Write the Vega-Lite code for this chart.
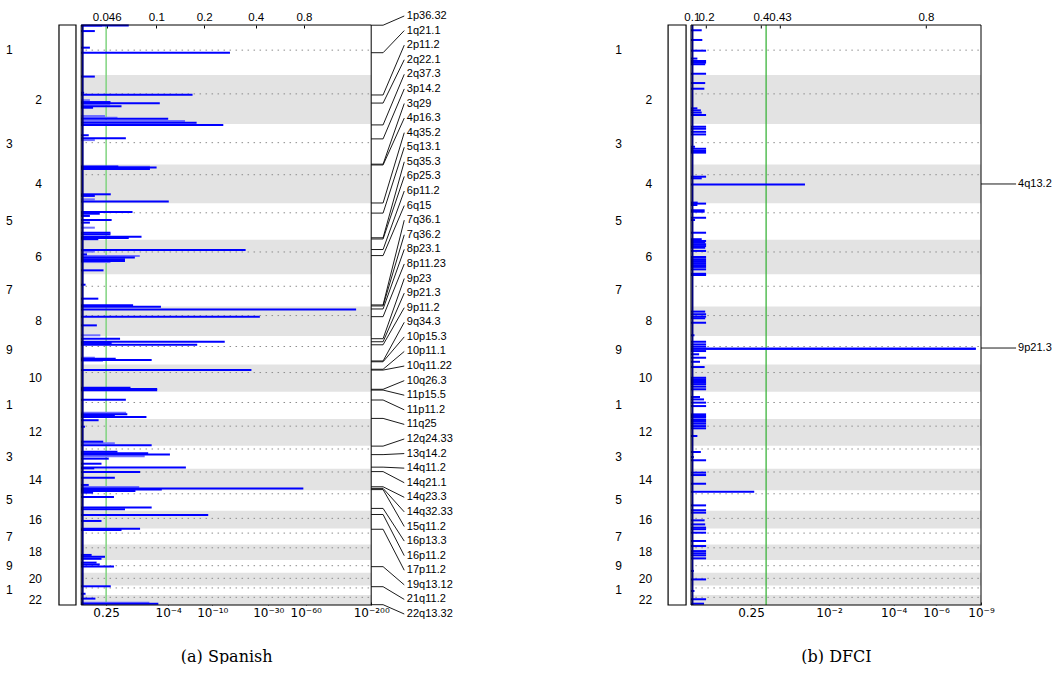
{
"$schema": "https://vega.github.io/schema/vega-lite/v6.json",
"padding": {"left": 0, "top": 9, "right": 0, "bottom": 0},
"background": "white",
"bounds": "flush",
"spacing": 145.8,
"config": {"view": {"stroke": null}, "font": "Liberation Sans"},
"datasets": {
"chroms": [
{"chr":1,"s":0,"e":247.2,"c":124.3,"m":123.6,"lab":"1","par":"odd"},
{"chr":2,"s":247.2,"e":490,"c":340.5,"m":368.6,"lab":"2","par":"even"},
{"chr":3,"s":490,"e":689.5,"c":581.7,"m":589.75,"lab":"3","par":"odd"},
{"chr":4,"s":689.5,"e":880.8,"c":740.2,"m":785.15,"lab":"4","par":"even"},
{"chr":5,"s":880.8,"e":1061.7,"c":928.5,"m":971.25,"lab":"5","par":"odd"},
{"chr":6,"s":1061.7,"e":1232.6,"c":1122.2,"m":1147.15,"lab":"6","par":"even"},
{"chr":7,"s":1232.6,"e":1391.4,"c":1291.7,"m":1312,"lab":"7","par":"odd"},
{"chr":8,"s":1391.4,"e":1537.7,"c":1436.6,"m":1464.55,"lab":"8","par":"even"},
{"chr":9,"s":1537.7,"e":1678,"c":1589.5,"m":1607.85,"lab":"9","par":"odd"},
{"chr":10,"s":1678,"e":1813.4,"c":1718.3,"m":1745.7,"lab":"10","par":"even"},
{"chr":11,"s":1813.4,"e":1947.9,"c":1866.3,"m":1880.65,"lab":"1","par":"odd"},
{"chr":12,"s":1947.9,"e":2080.2,"c":1983.3,"m":2014.05,"lab":"12","par":"even"},
{"chr":13,"s":2080.2,"e":2194.3,"c":2096.2,"m":2137.25,"lab":"3","par":"odd"},
{"chr":14,"s":2194.3,"e":2300.7,"c":2209.9,"m":2247.5,"lab":"14","par":"even"},
{"chr":15,"s":2300.7,"e":2401,"c":2317.7,"m":2350.85,"lab":"5","par":"odd"},
{"chr":16,"s":2401,"e":2489.8,"c":2439.2,"m":2445.4,"lab":"16","par":"even"},
{"chr":17,"s":2489.8,"e":2568.6,"c":2512,"m":2529.2,"lab":"7","par":"odd"},
{"chr":18,"s":2568.6,"e":2644.7,"c":2584.7,"m":2606.65,"lab":"18","par":"even"},
{"chr":19,"s":2644.7,"e":2708.5,"c":2673.2,"m":2676.6,"lab":"9","par":"odd"},
{"chr":20,"s":2708.5,"e":2770.9,"c":2735.6,"m":2739.7,"lab":"20","par":"even"},
{"chr":21,"s":2770.9,"e":2817.8,"c":2783.2,"m":2794.35,"lab":"1","par":"odd"},
{"chr":22,"s":2817.8,"e":2867.5,"c":2829.6,"m":2842.65,"lab":"22","par":"even"}
],
"barsA": [
{"g":4,"v":7.2,"t":"b"},{"g":2,"v":16.4,"t":"a"},{"g":30,"v":4.7,"t":"a"},{"g":112,"v":3.0,"t":"a"},{"g":137,"v":51.3,"t":"a"},
{"g":255,"v":4.7,"t":"a"},{"g":335,"v":1.0,"t":"a"},{"g":345,"v":38.4,"t":"a"},{"g":372,"v":3.0,"t":"b"},{"g":381,"v":10.1,"t":"a"},
{"g":387,"v":27.1,"t":"a"},{"g":392,"v":10.0,"t":"b"},{"g":402,"v":13.9,"t":"a"},{"g":409,"v":4.1,"t":"a"},{"g":450,"v":8.2,"t":"b"},
{"g":458,"v":12.5,"t":"b"},{"g":463,"v":30.0,"t":"a"},{"g":475,"v":35.8,"t":"b"},{"g":483,"v":39.8,"t":"a"},{"g":494,"v":49.0,"t":"a"},
{"g":545,"v":2.6,"t":"a"},{"g":560,"v":15.4,"t":"a"},{"g":569,"v":4.7,"t":"b"},{"g":699,"v":12.8,"t":"a"},{"g":701,"v":23.7,"t":"b"},
{"g":705,"v":26.0,"t":"a"},{"g":712,"v":23.7,"t":"a"},{"g":837,"v":10.2,"t":"a"},{"g":845,"v":4.7,"t":"a"},{"g":862,"v":4.7,"t":"b"},
{"g":873,"v":30.2,"t":"a"},{"g":925,"v":17.7,"t":"a"},{"g":933,"v":6.4,"t":"a"},{"g":944,"v":3.0,"t":"a"},{"g":964,"v":10.5,"t":"a"},
{"g":977,"v":3.0,"t":"a"},{"g":1002,"v":4.7,"t":"b"},{"g":1027,"v":10.1,"t":"a"},{"g":1035,"v":10.1,"t":"a"},{"g":1047,"v":20.8,"t":"a"},
{"g":1053,"v":16.4,"t":"a"},{"g":1059,"v":5.9,"t":"a"},{"g":1112,"v":56.7,"t":"a"},{"g":1120,"v":4.7,"t":"b"},{"g":1134,"v":2.0,"t":"a"},
{"g":1142,"v":20.2,"t":"b"},{"g":1150,"v":18.5,"t":"a"},{"g":1158,"v":15.1,"t":"a"},{"g":1167,"v":15.1,"t":"a"},{"g":1172,"v":10.1,"t":"b"},
{"g":1213,"v":7.7,"t":"a"},{"g":1284,"v":1.5,"t":"a"},{"g":1353,"v":5.9,"t":"a"},{"g":1386,"v":17.9,"t":"a"},{"g":1393,"v":27.5,"t":"a"},
{"g":1407,"v":94.8,"t":"a"},{"g":1442,"v":61.6,"t":"a"},{"g":1485,"v":5.4,"t":"a"},{"g":1534,"v":6.6,"t":"b"},{"g":1551,"v":13.4,"t":"a"},
{"g":1566,"v":49.5,"t":"a"},{"g":1572,"v":10.5,"t":"a"},{"g":1581,"v":40.0,"t":"a"},{"g":1645,"v":4.7,"t":"b"},{"g":1650,"v":11.9,"t":"a"},
{"g":1656,"v":24.3,"t":"a"},{"g":1660,"v":7.5,"t":"b"},{"g":1706,"v":58.7,"t":"a"},{"g":1793,"v":17.0,"t":"a"},{"g":1800,"v":26.2,"t":"a"},
{"g":1806,"v":26.2,"t":"a"},{"g":1853,"v":15.4,"t":"a"},{"g":1917,"v":15.5,"t":"b"},{"g":1925,"v":15.9,"t":"a"},{"g":1930,"v":11.6,"t":"a"},
{"g":1938,"v":22.5,"t":"a"},{"g":1954,"v":6.0,"t":"a"},{"g":1986,"v":1.3,"t":"a"},{"g":2060,"v":7.6,"t":"a"},{"g":2068,"v":11.6,"t":"b"},
{"g":2078,"v":24.3,"t":"a"},{"g":2110,"v":12.5,"t":"a"},{"g":2117,"v":23.1,"t":"a"},{"g":2124,"v":30.6,"t":"a"},{"g":2132,"v":21.9,"t":"b"},
{"g":2144,"v":9.5,"t":"a"},{"g":2169,"v":7.0,"t":"a"},{"g":2188,"v":36.1,"t":"a"},{"g":2192,"v":4.5,"t":"a"},{"g":2210,"v":20.3,"t":"a"},
{"g":2238,"v":11.6,"t":"a"},{"g":2274,"v":2.6,"t":"a"},{"g":2284,"v":20.0,"t":"b"},{"g":2291,"v":76.6,"t":"a"},{"g":2297,"v":27.8,"t":"a"},
{"g":2304,"v":18.7,"t":"a"},{"g":2312,"v":4.1,"t":"a"},{"g":2334,"v":11.3,"t":"a"},{"g":2386,"v":24.3,"t":"a"},{"g":2394,"v":15.1,"t":"a"},
{"g":2423,"v":43.8,"t":"a"},{"g":2452,"v":7.0,"t":"a"},{"g":2490,"v":20.3,"t":"a"},{"g":2497,"v":13.9,"t":"a"},{"g":2620,"v":3.6,"t":"a"},
{"g":2629,"v":8.2,"t":"a"},{"g":2639,"v":7.0,"t":"a"},{"g":2658,"v":5.3,"t":"a"},{"g":2667,"v":6.4,"t":"a"},{"g":2677,"v":11.3,"t":"a"},
{"g":2775,"v":10.2,"t":"a"},{"g":2812,"v":1.5,"t":"a"},{"g":2836,"v":4.9,"t":"a"},{"g":2856,"v":23.5,"t":"b"},{"g":2861,"v":26.6,"t":"a"}
],
"barsB": [
{"g":26,"v":3.7},{"g":74,"v":3.9},{"g":127,"v":5.2},{"g":166,"v":2.2},{"g":178,"v":5.2},{"g":186,"v":5.2},{"g":194,"v":4.9},{"g":241,"v":5.2},
{"g":287,"v":4.9},{"g":315,"v":4.6},{"g":412,"v":2.2},{"g":422,"v":3.4},{"g":433,"v":3.7},{"g":445,"v":5.2},{"g":503,"v":5.2},{"g":513,"v":5.2},
{"g":528,"v":5.2},{"g":541,"v":5.2},{"g":602,"v":1.4},{"g":612,"v":5.2},{"g":623,"v":5.2},{"g":631,"v":5.2},{"g":750,"v":5.2},{"g":758,"v":3.7},
{"g":788,"v":39.3},{"g":878,"v":2.3},{"g":883,"v":5.2},{"g":890,"v":2.2},{"g":916,"v":4.7},{"g":923,"v":4.7},{"g":953,"v":5.2},{"g":964,"v":1.4},
{"g":1027,"v":5.2},{"g":1059,"v":3.7},{"g":1068,"v":5.2},{"g":1076,"v":4.9},{"g":1084,"v":5.2},{"g":1093,"v":5.2},{"g":1101,"v":4.9},{"g":1117,"v":5.2},
{"g":1147,"v":5.2},{"g":1158,"v":5.2},{"g":1167,"v":5.2},{"g":1177,"v":5.2},{"g":1187,"v":5.2},{"g":1196,"v":5.2},{"g":1208,"v":5.2},{"g":1230,"v":5.2},
{"g":1236,"v":5.2},{"g":1417,"v":4.9},{"g":1430,"v":5.2},{"g":1442,"v":5.2},{"g":1450,"v":4.9},{"g":1472,"v":5.2},{"g":1534,"v":1.2},{"g":1566,"v":5.2},
{"g":1579,"v":5.2},{"g":1590,"v":5.2},{"g":1600,"v":98.2},{"g":1612,"v":5.2},{"g":1628,"v":2.8},{"g":1645,"v":5.2},{"g":1665,"v":3.1},{"g":1691,"v":4.7},
{"g":1744,"v":5.2},{"g":1752,"v":5.2},{"g":1760,"v":5.2},{"g":1768,"v":5.2},{"g":1776,"v":5.2},{"g":1788,"v":5.2},{"g":1801,"v":5.2},{"g":1839,"v":3.1},
{"g":1851,"v":4.5},{"g":1867,"v":5.2},{"g":1884,"v":5.2},{"g":1925,"v":5.2},{"g":1933,"v":5.2},{"g":1941,"v":5.2},{"g":1953,"v":5.2},{"g":1961,"v":5.2},
{"g":1971,"v":5.2},{"g":1983,"v":5.2},{"g":1994,"v":5.2},{"g":2032,"v":2.2},{"g":2111,"v":3.4},{"g":2136,"v":1.0},{"g":2152,"v":5.2},{"g":2213,"v":5.2},
{"g":2225,"v":5.2},{"g":2268,"v":5.2},{"g":2307,"v":21.8},{"g":2375,"v":5.2},{"g":2399,"v":5.2},{"g":2411,"v":5.2},{"g":2449,"v":4.7},{"g":2469,"v":4.9},
{"g":2485,"v":5.2},{"g":2493,"v":5.2},{"g":2510,"v":5.2},{"g":2551,"v":5.2},{"g":2576,"v":5.2},{"g":2601,"v":5.2},{"g":2612,"v":5.2},{"g":2622,"v":5.2},
{"g":2637,"v":5.2},{"g":2699,"v":1.0},{"g":2741,"v":5.2},{"g":2798,"v":1.2},{"g":2839,"v":5.2},{"g":2861,"v":4.5}
],
"peaksA": [
{"lab":"1p36.32","g":1,"ly":-44.5},{"lab":"1q21.1","g":137,"ly":27.6},{"lab":"2p11.2","g":346,"ly":99.7},{"lab":"2q22.1","g":386,"ly":171.8},
{"lab":"2q37.3","g":494,"ly":243.9},{"lab":"3p14.2","g":563,"ly":316.1},{"lab":"3q29","g":688,"ly":388.2},{"lab":"4p16.3","g":692,"ly":460.3},
{"lab":"4q35.2","g":880,"ly":532.4},{"lab":"5q13.1","g":930,"ly":604.5},{"lab":"5q35.3","g":1052,"ly":676.6},{"lab":"6p25.3","g":1058,"ly":748.7},
{"lab":"6p11.2","g":1110,"ly":820.8},{"lab":"6q15","g":1140,"ly":892.9},{"lab":"7q36.1","g":1384,"ly":965.0},{"lab":"7q36.2","g":1389,"ly":1037.2},
{"lab":"8p23.1","g":1404,"ly":1109.3},{"lab":"8p11.23","g":1442,"ly":1181.4},{"lab":"9p23","g":1551,"ly":1253.5},{"lab":"9p21.3","g":1566,"ly":1325.6},
{"lab":"9p11.2","g":1581,"ly":1397.7},{"lab":"9q34.3","g":1661,"ly":1469.8},{"lab":"10p15.3","g":1665,"ly":1541.9},{"lab":"10p11.1","g":1702,"ly":1614.0},
{"lab":"10q11.22","g":1706,"ly":1686.1},{"lab":"10q26.3","g":1801,"ly":1758.3},{"lab":"11p15.5","g":1805,"ly":1830.4},{"lab":"11p11.2","g":1854,"ly":1902.5},
{"lab":"11q25","g":1945,"ly":1974.6},{"lab":"12q24.33","g":2082,"ly":2046.7},{"lab":"13q14.2","g":2124,"ly":2118.8},{"lab":"14q11.2","g":2186,"ly":2190.9},
{"lab":"14q21.1","g":2208,"ly":2263.0},{"lab":"14q23.3","g":2283,"ly":2335.1},{"lab":"14q32.33","g":2291,"ly":2407.2},{"lab":"15q11.2","g":2297,"ly":2479.4},
{"lab":"16p13.3","g":2390,"ly":2551.5},{"lab":"16p11.2","g":2420,"ly":2623.6},{"lab":"17p11.2","g":2493,"ly":2695.7},{"lab":"19q13.12","g":2678,"ly":2767.8},
{"lab":"21q11.2","g":2777,"ly":2839.9},{"lab":"22q13.32","g":2866,"ly":2912.0}
],
"peaksB": [
{"lab":"4q13.2","g":786},{"lab":"9p21.3","g":1597}
]
},
"hconcat": [
{
"width": 464, "height": 580,
"resolve": {"axis": {"x": "independent"}},
"layer": [
{"data": {"name": "chroms"}, "transform": [{"filter": "datum.par == 'even'"}],
 "mark": {"type": "rect", "fill": "#e3e3e3"},
 "encoding": {
  "x": {"datum": 0, "type": "quantitative", "axis": null},
  "x2": {"datum": 100},
  "y": {"field": "s", "type": "quantitative", "scale": {"domain": [0, 2867.5], "reverse": true, "nice": false, "zero": false}, "axis": null},
  "y2": {"field": "e"}}},
{"data": {"name": "chroms"},
 "mark": {"type": "rule", "stroke": "#8c8c8c", "strokeDash": [1.5, 4.5], "strokeWidth": 1},
 "encoding": {"x": {"datum": 1.5, "type": "quantitative", "axis": null}, "x2": {"datum": 99.5},
  "y": {"field": "c", "type": "quantitative", "axis": null}}},
{"data": {"values": [{}]},
 "mark": {"type": "rule", "stroke": "#80d480", "strokeWidth": 1.5},
 "encoding": {"x": {"datum": 8.6, "type": "quantitative", "axis": null},
  "y": {"datum": 0, "type": "quantitative", "axis": null}, "y2": {"datum": 2867.5}}},
{"data": {"name": "barsA"}, "transform": [{"filter": "datum.t == 'b'"}],
 "mark": {"type": "rule", "stroke": "#7070ff", "strokeWidth": 2},
 "encoding": {
  "x": {"field": "v", "type": "quantitative", "scale": {"domain": [-28, 132], "nice": false, "zero": false},
   "axis": {"orient": "top", "values": [8.8, 25.9, 42.4, 60.2, 76.8],
    "labelExpr": "datum.value < 15 ? '0.046' : datum.value < 35 ? '0.1' : datum.value < 50 ? '0.2' : datum.value < 70 ? '0.4' : '0.8'",
    "domain": false, "grid": false, "tickSize": -3, "tickColor": "black", "labelFontSize": 11.5, "labelColor": "black",
    "labelPadding": 6, "labelOverlap": false, "labelFlush": false, "title": null}},
  "x2": {"datum": 0},
  "y": {"field": "g", "type": "quantitative", "axis": null}}},
{"data": {"name": "barsA"}, "transform": [{"filter": "datum.t == 'a'"}],
 "mark": {"type": "rule", "stroke": "#0000ff", "strokeWidth": 2},
 "encoding": {
  "x": {"field": "v", "type": "quantitative",
   "axis": {"orient": "bottom", "values": [8.6, 30.0, 45.2, 64.5, 77.4, 100],
    "labelExpr": "datum.value < 20 ? '0.25' : datum.value < 38 ? '10⁻⁴' : datum.value < 55 ? '10⁻¹⁰' : datum.value < 70 ? '10⁻³⁰' : datum.value < 90 ? '10⁻⁶⁰' : '10⁻²⁰⁰'",
    "domain": false, "grid": false, "tickSize": -3, "tickColor": "black", "labelFont": "DejaVu Sans", "labelFontSize": 12, "labelColor": "black",
    "labelPadding": 5, "labelOverlap": false, "labelFlush": false,
    "title": "(a) Spanish", "titleFont": "DejaVu Serif", "titleFontSize": 16, "titleFontWeight": "normal", "titleColor": "black",
    "titleX": 226.2, "titleY": 51, "titleBaseline": "middle", "titleAlign": "center"}},
  "x2": {"datum": 0},
  "y": {"field": "g", "type": "quantitative", "axis": null}}},
{"data": {"values": [{}]},
 "mark": {"type": "rule", "stroke": "#00007a", "strokeWidth": 2},
 "encoding": {"x": {"datum": 0.5, "type": "quantitative", "axis": null},
  "y": {"datum": 0, "type": "quantitative", "axis": null}, "y2": {"datum": 2867.5}}},
{"data": {"values": [{}]},
 "mark": {"type": "rect", "fill": "transparent", "stroke": "black", "strokeWidth": 1},
 "encoding": {"x": {"datum": 0, "type": "quantitative", "axis": null}, "x2": {"datum": 100},
  "y": {"datum": 0, "type": "quantitative", "axis": null}, "y2": {"datum": 2867.5}}},
{"data": {"values": [{}]},
 "mark": {"type": "rect", "fill": "white", "stroke": "black", "strokeWidth": 1.2},
 "encoding": {"x": {"datum": -7.66, "type": "quantitative", "axis": null}, "x2": {"datum": -1.8},
  "y": {"datum": 0, "type": "quantitative", "axis": null}, "y2": {"datum": 2867.5}}},
{"data": {"name": "chroms"}, "transform": [{"filter": "datum.par == 'even'"}],
 "mark": {"type": "text", "align": "right", "baseline": "middle", "fontSize": 12, "color": "black"},
 "encoding": {"x": {"datum": -13.5, "type": "quantitative", "axis": null},
  "y": {"field": "m", "type": "quantitative", "axis": null}, "text": {"field": "lab", "type": "nominal"}}},
{"data": {"name": "chroms"}, "transform": [{"filter": "datum.par == 'odd'"}],
 "mark": {"type": "text", "align": "right", "baseline": "middle", "fontSize": 12, "color": "black"},
 "encoding": {"x": {"datum": -23.6, "type": "quantitative", "axis": null},
  "y": {"field": "m", "type": "quantitative", "axis": null}, "text": {"field": "lab", "type": "nominal"}}},
{"data": {"name": "peaksA"},
 "mark": {"type": "rule", "stroke": "black", "strokeWidth": 0.9},
 "encoding": {"x": {"datum": 100, "type": "quantitative", "axis": null}, "x2": {"datum": 104.1},
  "y": {"field": "g", "type": "quantitative", "axis": null}}},
{"data": {"name": "peaksA"},
 "mark": {"type": "rule", "stroke": "black", "strokeWidth": 0.9},
 "encoding": {"x": {"datum": 104.1, "type": "quantitative", "axis": null}, "x2": {"datum": 111.4},
  "y": {"field": "g", "type": "quantitative", "axis": null}, "y2": {"field": "ly"}}},
{"data": {"name": "peaksA"},
 "mark": {"type": "text", "align": "left", "baseline": "middle", "fontSize": 11, "color": "black"},
 "encoding": {"x": {"datum": 112.3, "type": "quantitative", "axis": null},
  "y": {"field": "ly", "type": "quantitative", "axis": null}, "text": {"field": "lab", "type": "nominal"}}}
]
},
{
"width": 435, "height": 580,
"resolve": {"axis": {"x": "independent"}},
"layer": [
{"data": {"name": "chroms"}, "transform": [{"filter": "datum.par == 'even'"}],
 "mark": {"type": "rect", "fill": "#e3e3e3"},
 "encoding": {
  "x": {"datum": 0, "type": "quantitative", "axis": null},
  "x2": {"datum": 100},
  "y": {"field": "s", "type": "quantitative", "scale": {"domain": [0, 2867.5], "reverse": true, "nice": false, "zero": false}, "axis": null},
  "y2": {"field": "e"}}},
{"data": {"name": "chroms"},
 "mark": {"type": "rule", "stroke": "#8c8c8c", "strokeDash": [1.5, 4.5], "strokeWidth": 1},
 "encoding": {"x": {"datum": 1.5, "type": "quantitative", "axis": null}, "x2": {"datum": 99.5},
  "y": {"field": "c", "type": "quantitative", "axis": null}}},
{"data": {"values": [{}]},
 "mark": {"type": "rule", "stroke": "#3cb43c", "strokeWidth": 1.3},
 "encoding": {"x": {"datum": 25.9, "type": "quantitative", "axis": null},
  "y": {"datum": 0, "type": "quantitative", "axis": null}, "y2": {"datum": 2867.5}}},
{"data": {"name": "barsB"},
 "mark": {"type": "rule", "stroke": "#0000ff", "strokeWidth": 2},
 "encoding": {
  "x": {"field": "v", "type": "quantitative", "scale": {"domain": [-28, 122], "nice": false, "zero": false},
   "axis": {"orient": "top", "values": [0.3, 5.2, 24.1, 30.7, 81.0],
    "labelExpr": "datum.value < 2.5 ? '0.1' : datum.value < 15 ? '0.2' : datum.value < 27 ? '0.4' : datum.value < 50 ? '0.43' : '0.8'",
    "domain": false, "grid": false, "tickSize": -3, "tickColor": "black", "labelFontSize": 11.5, "labelColor": "black",
    "labelPadding": 6, "labelOverlap": false, "labelFlush": false, "title": null}},
  "x2": {"datum": 0},
  "y": {"field": "g", "type": "quantitative", "axis": null}}},
{"data": {"name": "barsB"}, "transform": [{"filter": "datum.v > 50"}],
 "mark": {"type": "rule", "stroke": "#0000ff", "strokeWidth": 2},
 "encoding": {
  "x": {"field": "v", "type": "quantitative",
   "axis": {"orient": "bottom", "values": [20.7, 47.6, 69.9, 84.5, 100],
    "labelExpr": "datum.value < 30 ? '0.25' : datum.value < 60 ? '10⁻²' : datum.value < 78 ? '10⁻⁴' : datum.value < 95 ? '10⁻⁶' : '10⁻⁹'",
    "domain": false, "grid": false, "tickSize": -3, "tickColor": "black", "labelFont": "DejaVu Sans", "labelFontSize": 12, "labelColor": "black",
    "labelPadding": 5, "labelOverlap": false, "labelFlush": false,
    "title": "(b) DFCI", "titleFont": "DejaVu Serif", "titleFontSize": 16, "titleFontWeight": "normal", "titleColor": "black",
    "titleX": 226.2, "titleY": 51, "titleBaseline": "middle", "titleAlign": "center"}},
  "x2": {"datum": 0},
  "y": {"field": "g", "type": "quantitative", "axis": null}}},
{"data": {"values": [{}]},
 "mark": {"type": "rule", "stroke": "#00007a", "strokeWidth": 2},
 "encoding": {"x": {"datum": 0.5, "type": "quantitative", "axis": null},
  "y": {"datum": 0, "type": "quantitative", "axis": null}, "y2": {"datum": 2867.5}}},
{"data": {"values": [{}]},
 "mark": {"type": "rect", "fill": "transparent", "stroke": "black", "strokeWidth": 1},
 "encoding": {"x": {"datum": 0, "type": "quantitative", "axis": null}, "x2": {"datum": 100},
  "y": {"datum": 0, "type": "quantitative", "axis": null}, "y2": {"datum": 2867.5}}},
{"data": {"values": [{}]},
 "mark": {"type": "rect", "fill": "white", "stroke": "black", "strokeWidth": 1.2},
 "encoding": {"x": {"datum": -7.9, "type": "quantitative", "axis": null}, "x2": {"datum": -1.7},
  "y": {"datum": 0, "type": "quantitative", "axis": null}, "y2": {"datum": 2867.5}}},
{"data": {"name": "chroms"}, "transform": [{"filter": "datum.par == 'even'"}],
 "mark": {"type": "text", "align": "right", "baseline": "middle", "fontSize": 12, "color": "black"},
 "encoding": {"x": {"datum": -13.4, "type": "quantitative", "axis": null},
  "y": {"field": "m", "type": "quantitative", "axis": null}, "text": {"field": "lab", "type": "nominal"}}},
{"data": {"name": "chroms"}, "transform": [{"filter": "datum.par == 'odd'"}],
 "mark": {"type": "text", "align": "right", "baseline": "middle", "fontSize": 12, "color": "black"},
 "encoding": {"x": {"datum": -23.8, "type": "quantitative", "axis": null},
  "y": {"field": "m", "type": "quantitative", "axis": null}, "text": {"field": "lab", "type": "nominal"}}},
{"data": {"name": "peaksB"},
 "mark": {"type": "rule", "stroke": "black", "strokeWidth": 0.9},
 "encoding": {"x": {"datum": 100, "type": "quantitative", "axis": null}, "x2": {"datum": 112.1},
  "y": {"field": "g", "type": "quantitative", "axis": null}}},
{"data": {"name": "peaksB"},
 "mark": {"type": "text", "align": "left", "baseline": "middle", "fontSize": 11, "color": "black"},
 "encoding": {"x": {"datum": 112.8, "type": "quantitative", "axis": null},
  "y": {"field": "g", "type": "quantitative", "axis": null}, "text": {"field": "lab", "type": "nominal"}}}
]
}
]
}
